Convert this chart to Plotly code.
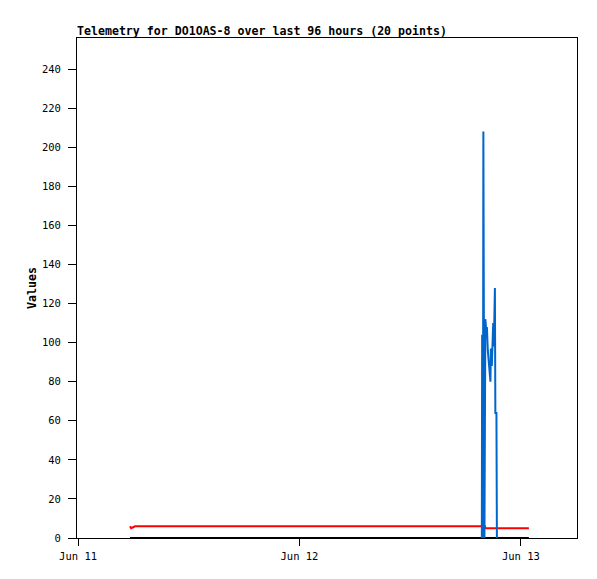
import plotly.graph_objects as go

# Blue series (spiky telemetry)
blue_t = ["2024-06-12 19:46", "2024-06-12 19:48", "2024-06-12 19:53", "2024-06-12 19:56",
          "2024-06-12 20:03", "2024-06-12 20:06", "2024-06-12 20:09", "2024-06-12 20:16",
          "2024-06-12 20:19", "2024-06-12 20:25", "2024-06-12 20:32", "2024-06-12 20:35",
          "2024-06-12 20:42", "2024-06-12 20:45", "2024-06-12 20:51", "2024-06-12 20:55",
          "2024-06-12 21:00", "2024-06-12 21:04", "2024-06-12 21:08", "2024-06-12 21:11",
          "2024-06-12 21:14", "2024-06-12 21:21", "2024-06-12 21:24"]
blue_v = [0, 104, 0, 208, 0, 56, 112, 105, 108, 96, 89, 83, 80, 97, 88, 98, 110, 98, 121, 128, 64, 64, 0]

# Red series
red_t = ["2024-06-11 05:38", "2024-06-11 05:45", "2024-06-11 05:58", "2024-06-11 06:10",
         "2024-06-12 20:06", "2024-06-12 20:07", "2024-06-13 00:52"]
red_v = [6, 5, 5.5, 6, 6, 5, 5]

# Black series
black_t = ["2024-06-11 05:38", "2024-06-13 00:52"]
black_v = [0, 0]

y_ticks = list(range(0, 241, 20))
x_ticks = ["2024-06-11", "2024-06-12", "2024-06-13"]
x_tick_labels = ["Jun 11", "Jun 12", "Jun 13"]

fig = go.Figure()
fig.add_trace(go.Scatter(x=black_t, y=black_v, mode="lines",
                         line=dict(color="#000000", width=2), showlegend=False))
fig.add_trace(go.Scatter(x=red_t, y=red_v, mode="lines",
                         line=dict(color="#ff0000", width=2), showlegend=False))
fig.add_trace(go.Scatter(x=blue_t, y=blue_v, mode="lines",
                         line=dict(color="#0066cc", width=2), showlegend=False))

font_mono = "DejaVu Sans Mono, Liberation Mono, monospace"

# page body has an 8px default margin, so the figure is offset by 8px
W, H = 589, 571
fig.update_layout(
    width=W, height=H,
    margin=dict(l=69, r=20, t=30, b=41),
    paper_bgcolor="white", plot_bgcolor="white",
    font=dict(family=font_mono, size=10.5, color="#000000"),
    title=dict(text="<b>Telemetry for DO1OAS-8 over last 96 hours (20 points)</b>",
               x=69/W, xanchor="left", xref="container",
               y=1 - 23/H, yanchor="middle", yref="container",
               font=dict(family=font_mono, size=11.6, color="#000000")),
    xaxis=dict(range=["2024-06-10 23:53", "2024-06-13 06:05"],
               tickmode="array", tickvals=x_ticks, ticktext=x_tick_labels,
               showgrid=False, zeroline=False, showline=True, linecolor="#000000",
               linewidth=1, mirror=True, ticks="outside", ticklen=7,
               ticklabelstandoff=1,
               tickcolor="#000000", tickfont=dict(family=font_mono, size=10.5)),
    yaxis=dict(range=[0, 255.9], tickmode="array", tickvals=y_ticks,
               showgrid=False, zeroline=False, showline=True, linecolor="#000000",
               linewidth=1, mirror=True, ticks="outside", ticklen=8,
               ticklabelstandoff=5,
               tickcolor="#000000", tickfont=dict(family=font_mono, size=10.5)),
    annotations=[dict(text="<b>Values</b>", textangle=-90, xref="paper", yref="paper",
                      x=-(69 - 24) / 500, y=0.5, xanchor="center", yanchor="middle",
                      showarrow=False, font=dict(family=font_mono, size=11.6))],
)

fig.write_html("out.html")
